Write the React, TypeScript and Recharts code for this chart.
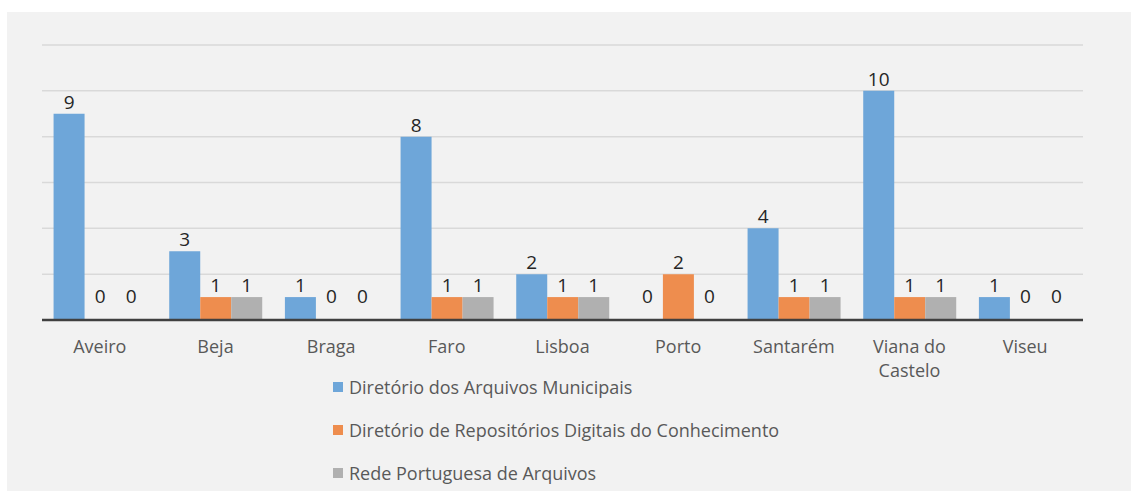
import { BarChart, Bar, XAxis, YAxis, CartesianGrid, Legend, LabelList } from 'recharts';

const districts = ['Aveiro', 'Beja', 'Braga', 'Faro', 'Lisboa', 'Porto', 'Santarém', 'Viana do Castelo', 'Viseu'];
const arquivosMunicipais = [9, 3, 1, 8, 2, 0, 4, 10, 1];
const repositoriosDigitais = [0, 1, 0, 1, 1, 2, 1, 1, 0];
const redePortuguesa = [0, 1, 0, 1, 1, 0, 1, 1, 0];
const yTicks = [0, 2, 4, 6, 8, 10, 12];

const seriesInfo = [
  { key: 'dam', name: 'Diretório dos Arquivos Municipais', color: '#6ea6d9' },
  { key: 'drdc', name: 'Diretório de Repositórios Digitais do Conhecimento', color: '#ee8d4e' },
  { key: 'rpa', name: 'Rede Portuguesa de Arquivos', color: '#b0b0b0' }
];

const data = districts.map((d, i) => ({
  name: d,
  dam: arquivosMunicipais[i],
  drdc: repositoriosDigitais[i],
  rpa: redePortuguesa[i]
}));

const FONT = '"Open Sans", "Noto Sans", sans-serif';

// wrap long category names like Excel does
const wrapLabel = (text: string, max = 10) => {
  const words = text.split(' ');
  const lines: string[] = [];
  let cur = '';
  words.forEach((w) => {
    if (cur && (cur + ' ' + w).length > max) {
      lines.push(cur);
      cur = w;
    } else {
      cur = cur ? cur + ' ' + w : w;
    }
  });
  if (cur) lines.push(cur);
  return lines;
};

const CategoryTick = (props: any) => {
  const { x, y, payload } = props;
  const lines = wrapLabel(String(payload.value));
  return (
    <text x={x} y={y} textAnchor="middle" fill="#595959" fontSize={18} fontFamily={FONT}>
      {lines.map((l, i) => (
        <tspan key={i} x={x} dy={i === 0 ? 25 : 24}>{l}</tspan>
      ))}
    </text>
  );
};

const ValueLabel = (props: any) => {
  const { x, y, width, height, value } = props;
  const top = Math.min(y, y + height);
  const cy = Number(value) === 0 ? top - 24 : top - 12;
  return (
    <text
      x={x + width / 2}
      y={cy}
      textAnchor="middle"
      dominantBaseline="central"
      fill="#262626"
      fontSize={19}
      fontFamily={FONT}
    >
      {value}
    </text>
  );
};

const renderLegend = () => (
  <ul style={{ listStyle: 'none', margin: 0, padding: 0, fontFamily: FONT }}>
    {seriesInfo.map((s) => (
      <li key={s.key} style={{ height: 43, display: 'flex', alignItems: 'center', fontSize: 18, color: '#595959' }}>
        <span style={{ width: 10, height: 10, background: s.color, display: 'inline-block', marginRight: 6 }} />
        {s.name}
      </li>
    ))}
  </ul>
);

// tiny invisible height so zero values still get their labels
const zeroSize = (value: any) => (Number(value) === 0 ? 0.01 : 0);

const NoTick = () => <g />;

export default function App() {
  return (
    <div style={{ position: 'absolute', left: 0, top: 0, width: 1131, height: 491, background: '#ffffff' }}>
      <div style={{ position: 'absolute', left: 7, top: 12, width: 1124, height: 479, background: '#f2f2f2' }}>
        <BarChart
          width={1124}
          height={479}
          data={data}
          margin={{ top: 33, right: 48, bottom: 111, left: 35 }}
          barCategoryGap="10%"
          barGap={0}
        >
          <CartesianGrid vertical={false} stroke="#d9d9d9" strokeWidth={1.5} />
          <YAxis domain={[0, 12]} ticks={yTicks} width={0} tick={<NoTick />} axisLine={false} tickLine={false} />
          <XAxis
            dataKey="name"
            height={60}
            interval={0}
            tickLine={false}
            axisLine={{ stroke: '#404040', strokeWidth: 2.5 }}
            tick={<CategoryTick />}
          />
          <Legend
            layout="vertical"
            align="center"
            verticalAlign="middle"
            content={renderLegend}
            wrapperStyle={{ position: 'absolute', left: 326, top: 353, width: 560, bottom: 'auto' }}
          />
          {seriesInfo.map((s) => (
            <Bar key={s.key} dataKey={s.key} name={s.name} fill={s.color} minPointSize={zeroSize} isAnimationActive={false}>
              <LabelList dataKey={s.key} content={<ValueLabel />} />
            </Bar>
          ))}
        </BarChart>
      </div>
    </div>
  );
}
